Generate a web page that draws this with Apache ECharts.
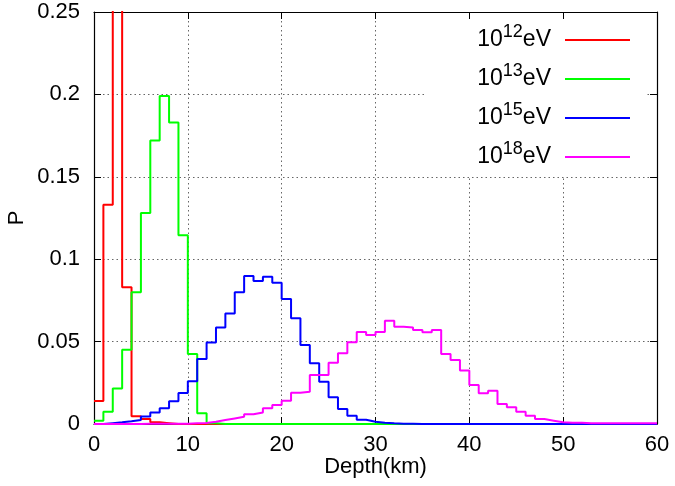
<!DOCTYPE html>
<html><head><meta charset="utf-8">
<script src="https://cdn.jsdelivr.net/npm/echarts@6/dist/echarts.min.js"></script>
<style>html,body{margin:0;padding:0;background:#fff}#c{width:675px;height:486px}</style>
</head><body><div id="c"></div>
<script>
// bin left edges (km), bin width 1 km
const binEdges = [0,1,2,3,4,5,6,7,8,9,10,11,12,13,14,15,16,17,18,19,20,21,22,23,24,25,26,27,28,29,
  30,31,32,33,34,35,36,37,38,39,40,41,42,43,44,45,46,47,48,49,50,51,52,53,54,55,56,57,58,59];
const lastEdge = 60;

const seriesNames = ['10^12eV','10^13eV','10^15eV','10^18eV'];
const energyExponents = ['12','13','15','18'];
const seriesColors = ['#ff0000','#00ff00','#0000ff','#ff00ff'];

const p1e12 = [0.014,0.133,0.76,0.083,0.0047,0.003,0.001,0.0005,0,0,
  0,0,0,0,0,0,0,0,0,0, 0,0,0,0,0,0,0,0,0,0, 0,0,0,0,0,0,0,0,0,0,
  0,0,0,0,0,0,0,0,0,0, 0,0,0,0,0,0,0,0,0,0];
const p1e13 = [0.002,0.0075,0.0215,0.045,0.080,0.128,0.172,0.199,0.183,0.1145,
  0.0425,0.0065,0.0005,0,0,0,0,0,0,0, 0,0,0,0,0,0,0,0,0,0, 0,0,0,0,0,0,0,0,0,0,
  0,0,0,0,0,0,0,0,0,0, 0,0,0,0,0,0,0,0,0,0];
const p1e15 = [0,0.0005,0.001,0.0016,0.0024,0.0045,0.007,0.0095,0.0138,0.0188,
  0.026,0.0394,0.0494,0.0585,0.0671,0.0799,0.0898,0.0868,0.0894,0.0857,
  0.0758,0.0641,0.0479,0.0368,0.0257,0.0162,0.0091,0.005,0.0026,0.0014,
  0.0008,0.0004,0.0002,0.0001,0,0,0,0,0,0, 0,0,0,0,0,0,0,0,0,0, 0,0,0,0,0,0,0,0,0,0];
const p1e18 = [0,0,0,0,0,0.0002,0.0002,0.0002,0.0002,0.0002,
  0.0004,0.0006,0.0014,0.0024,0.0034,0.0044,0.0059,0.007,0.0095,0.0115,
  0.0141,0.019,0.0196,0.0297,0.0297,0.0372,0.0429,0.0496,0.0558,0.054,
  0.0558,0.0627,0.059,0.0585,0.057,0.0556,0.057,0.0425,0.0388,0.0324,
  0.0237,0.0186,0.0202,0.0121,0.0101,0.0075,0.005,0.003,0.002,0.001,
  0.0008,0.0008,0.0004,0.0004,0.0004,0.0004,0.0004,0.0004,0.0004,0.0004];
const allValues = [p1e12,p1e13,p1e15,p1e18];

const xTicks = [0,10,20,30,40,50,60];
const yTickValues = [0,0.05,0.1,0.15,0.2,0.25];
const yTickLabels = ['0','0.05','0.1','0.15','0.2','0.25'];

const FF = '"Liberation Sans", Arial, Helvetica, sans-serif';
const chart = echarts.init(document.getElementById('c'), null, {renderer:'canvas'});

function histData(vals){
  const d = binEdges.map((x,i)=>[x, vals[i]]);
  d.push([lastEdge, vals[vals.length-1]]);
  return d;
}

const grid = {left:94, right:18, top:12, bottom:62, containLabel:false, outerBoundsMode:'none'};
const gridLine = {show:true, lineStyle:{color:'#666', type:[1.5,3], width:1}};
const axisLineBlack = {show:true, onZero:false, lineStyle:{color:'#000', width:1.2}};

chart.setOption({
  animation:false,
  backgroundColor:'#fff',
  grid: grid,
  legend: {
    orient:'vertical', right:30, top:19, align:'right',
    backgroundColor:'#fff', padding:[4,15,2,51],
    itemWidth:65, itemHeight:2, itemGap:5, icon:'rect',
    data: seriesNames,
    formatter: function(name){ const i = seriesNames.indexOf(name); return '{b|10}{s|'+energyExponents[i]+'}{b|eV}'; },
    textStyle: {
      padding:[0,9,0,0],
      rich: {
        b:{fontSize:23, fontFamily:FF, color:'#000', lineHeight:26},
        s:{fontSize:18, fontFamily:FF, color:'#000', lineHeight:26, padding:[0,0,16,0]}
      }
    }
  },
  xAxis: [
    {type:'value', position:'bottom', min:0, max:60, interval:10,
     name:'Depth(km)', nameLocation:'middle', nameGap:32, nameMoveOverlap:false,
     nameTextStyle:{fontSize:22, fontFamily:FF, color:'#000'},
     axisLine:axisLineBlack,
     axisTick:{show:true, inside:true, length:7, lineStyle:{color:'#000'}},
     axisLabel:{fontSize:22, fontFamily:FF, color:'#000', margin:10,
       formatter: v => xTicks.indexOf(v) >= 0 ? String(v) : ''},
     splitLine:gridLine},
    {type:'value', position:'top', min:0, max:60, interval:10,
     axisLine:axisLineBlack,
     axisTick:{show:true, inside:true, length:7, lineStyle:{color:'#000'}},
     axisLabel:{show:false}, splitLine:{show:false}}
  ],
  yAxis: [
    {type:'value', position:'left', min:0, max:0.25, interval:0.05,
     name:'P', nameLocation:'middle', nameGap:66, nameRotate:90, nameMoveOverlap:false,
     nameTextStyle:{fontSize:22, fontFamily:FF, color:'#000'},
     axisLine:axisLineBlack,
     axisTick:{show:true, inside:true, length:7, lineStyle:{color:'#000'}},
     axisLabel:{fontSize:22, fontFamily:FF, color:'#000', margin:14,
       formatter: v => { const i = yTickValues.findIndex(t => Math.abs(t - v) < 1e-9); return i >= 0 ? yTickLabels[i] : ''; }},
     splitLine:gridLine},
    {type:'value', position:'right', min:0, max:0.25, interval:0.05,
     axisLine:axisLineBlack,
     axisTick:{show:true, inside:true, length:7, lineStyle:{color:'#000'}},
     axisLabel:{show:false}, splitLine:{show:false}}
  ],
  series: seriesNames.map((n,i)=>({
    type:'line', name:n, step:'end', data:histData(allValues[i]),
    symbol:'none', showSymbol:false, clip:true,
    lineStyle:{color:seriesColors[i], width:2},
    itemStyle:{color:seriesColors[i]},
    z: 2 + i
  }))
});
</script>
</body></html>
